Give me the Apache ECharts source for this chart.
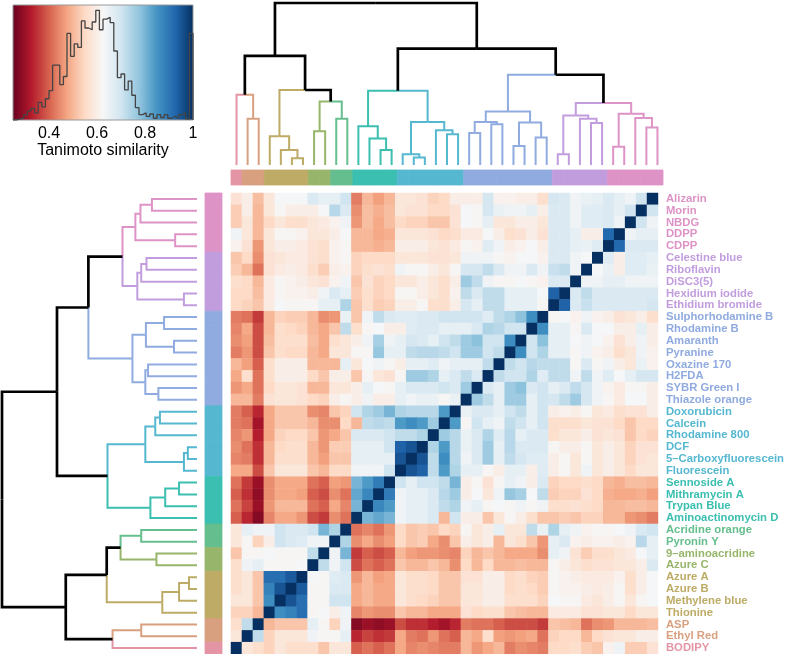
<!DOCTYPE html>
<html>
<head>
<meta charset="utf-8">
<script src="https://cdn.jsdelivr.net/npm/echarts@6/dist/echarts.min.js"></script>
<style>html,body{margin:0;padding:0;background:#fff;}#c{width:787px;height:654px;}</style>
</head>
<body>
<div id="c"></div>
<script>
// ---------------- DATA ----------------
// compounds in row order (top to bottom); columns run in the reverse order
const compounds = ['Alizarin','Morin','NBDG','DDPP','CDPP','Celestine blue','Riboflavin','DiSC3(5)','Hexidium iodide','Ethidium bromide','Sulphorhodamine B','Rhodamine B','Amaranth','Pyranine','Oxazine 170','H2FDA','SYBR Green I','Thiazole orange','Doxorubicin','Calcein','Rhodamine 800','DCF','5\u2013Carboxyfluorescein','Fluorescein','Sennoside A','Mithramycin A','Trypan Blue','Aminoactinomycin D','Acridine orange','Pyronin Y','9\u2013aminoacridine','Azure C','Azure A','Azure B','Methylene blue','Thionine','ASP','Ethyl Red','BODIPY'];
// cluster id of each compound (row order)
const compoundCluster = [9,9,9,9,9,8,8,8,8,8,7,7,7,7,7,7,7,7,6,6,6,6,6,6,5,5,5,5,4,4,3,3,2,2,2,2,1,1,0];
const clusterColors = ['#E495A5','#D8A07F','#BDAB66','#97B66B','#65BE8D','#3ABFB0','#55B8D0','#90ABE0','#C29DDE','#DE93C6'];

// Tanimoto similarity, row r = compound r, column c = compound (38-c), for c = 0 .. 37-r
const simRows = [
 [0.57,0.60,0.51,0.58,0.63,0.63,0.63,0.68,0.66,0.66,0.70,0.43,0.50,0.47,0.50,0.58,0.58,0.57,0.54,0.55,0.60,0.60,0.60,0.69,0.61,0.61,0.60,0.60,0.56,0.69,0.68,0.64,0.65,0.66,0.68,0.66,0.64,0.70],
 [0.53,0.60,0.50,0.58,0.62,0.60,0.60,0.60,0.63,0.73,0.68,0.45,0.51,0.49,0.51,0.58,0.57,0.57,0.55,0.55,0.57,0.63,0.62,0.69,0.65,0.64,0.64,0.66,0.60,0.68,0.68,0.64,0.67,0.67,0.68,0.66,0.70],
 [0.53,0.58,0.50,0.55,0.58,0.56,0.56,0.58,0.59,0.61,0.64,0.46,0.51,0.48,0.51,0.55,0.54,0.54,0.52,0.52,0.57,0.63,0.62,0.66,0.58,0.58,0.60,0.60,0.58,0.68,0.68,0.64,0.67,0.67,0.68,0.64],
 [0.64,0.58,0.50,0.58,0.62,0.62,0.61,0.58,0.58,0.60,0.63,0.50,0.50,0.48,0.49,0.58,0.58,0.58,0.57,0.55,0.56,0.59,0.59,0.63,0.60,0.56,0.57,0.60,0.57,0.68,0.68,0.66,0.60,0.60,0.92],
 [0.61,0.57,0.46,0.58,0.60,0.60,0.59,0.57,0.56,0.61,0.62,0.50,0.50,0.49,0.50,0.60,0.60,0.60,0.58,0.57,0.59,0.62,0.61,0.67,0.64,0.60,0.61,0.63,0.60,0.68,0.68,0.66,0.65,0.67],
 [0.52,0.55,0.45,0.57,0.58,0.59,0.59,0.57,0.56,0.61,0.62,0.54,0.55,0.55,0.55,0.58,0.58,0.58,0.57,0.57,0.58,0.64,0.64,0.64,0.62,0.61,0.63,0.63,0.61,0.68,0.68,0.64,0.63],
 [0.53,0.50,0.42,0.57,0.59,0.60,0.59,0.56,0.53,0.60,0.61,0.54,0.56,0.57,0.56,0.64,0.62,0.62,0.60,0.58,0.62,0.69,0.69,0.72,0.68,0.64,0.64,0.68,0.64,0.71,0.72,0.64],
 [0.56,0.55,0.50,0.59,0.62,0.61,0.60,0.58,0.57,0.61,0.64,0.52,0.57,0.54,0.55,0.58,0.58,0.60,0.58,0.56,0.60,0.76,0.72,0.64,0.62,0.62,0.63,0.62,0.61,0.68,0.68],
 [0.55,0.55,0.51,0.59,0.62,0.61,0.61,0.60,0.64,0.68,0.66,0.53,0.56,0.54,0.55,0.62,0.62,0.60,0.58,0.56,0.61,0.72,0.68,0.72,0.72,0.66,0.66,0.66,0.63,0.93],
 [0.55,0.54,0.52,0.59,0.63,0.62,0.62,0.62,0.66,0.66,0.74,0.52,0.56,0.53,0.54,0.60,0.60,0.62,0.56,0.56,0.60,0.69,0.66,0.72,0.72,0.66,0.66,0.66,0.62],
 [0.43,0.42,0.36,0.50,0.54,0.53,0.53,0.50,0.45,0.46,0.65,0.52,0.64,0.72,0.68,0.67,0.67,0.68,0.68,0.70,0.70,0.70,0.70,0.67,0.72,0.74,0.78,0.86],
 [0.44,0.48,0.38,0.50,0.56,0.55,0.54,0.50,0.48,0.52,0.72,0.56,0.62,0.63,0.60,0.60,0.67,0.68,0.68,0.66,0.66,0.66,0.68,0.74,0.73,0.70,0.70],
 [0.45,0.47,0.38,0.51,0.56,0.56,0.56,0.51,0.48,0.56,0.58,0.60,0.64,0.75,0.64,0.66,0.69,0.68,0.66,0.70,0.72,0.76,0.78,0.70,0.70,0.86],
 [0.43,0.46,0.38,0.52,0.56,0.55,0.55,0.50,0.48,0.58,0.58,0.62,0.62,0.77,0.66,0.66,0.72,0.73,0.73,0.72,0.70,0.76,0.76,0.70,0.72],
 [0.50,0.47,0.40,0.56,0.60,0.60,0.60,0.50,0.50,0.50,0.66,0.58,0.63,0.64,0.62,0.60,0.66,0.66,0.67,0.64,0.66,0.66,0.66,0.72],
 [0.48,0.56,0.42,0.56,0.60,0.60,0.60,0.55,0.52,0.60,0.60,0.52,0.62,0.58,0.57,0.62,0.76,0.76,0.74,0.66,0.68,0.72,0.68],
 [0.46,0.48,0.42,0.55,0.58,0.58,0.57,0.50,0.50,0.58,0.58,0.60,0.66,0.63,0.62,0.66,0.68,0.68,0.68,0.70,0.68,0.76],
 [0.50,0.50,0.43,0.57,0.58,0.58,0.57,0.55,0.54,0.60,0.62,0.60,0.64,0.60,0.60,0.66,0.64,0.65,0.65,0.62,0.65],
 [0.43,0.40,0.34,0.48,0.52,0.52,0.52,0.45,0.44,0.52,0.54,0.70,0.74,0.76,0.80,0.74,0.73,0.73,0.73,0.84],
 [0.43,0.42,0.31,0.48,0.52,0.52,0.52,0.50,0.45,0.45,0.55,0.50,0.72,0.73,0.72,0.84,0.86,0.84,0.76],
 [0.44,0.46,0.33,0.48,0.54,0.55,0.55,0.52,0.46,0.48,0.52,0.68,0.68,0.68,0.70,0.72,0.72,0.74],
 [0.45,0.42,0.35,0.50,0.55,0.56,0.56,0.50,0.46,0.53,0.53,0.66,0.66,0.66,0.70,0.93,0.95],
 [0.44,0.43,0.35,0.50,0.56,0.56,0.56,0.50,0.47,0.52,0.52,0.66,0.66,0.66,0.66,0.95],
 [0.48,0.48,0.38,0.52,0.58,0.58,0.58,0.52,0.50,0.55,0.55,0.64,0.64,0.64,0.70],
 [0.42,0.36,0.30,0.45,0.48,0.48,0.48,0.42,0.40,0.47,0.46,0.80,0.84,0.89],
 [0.40,0.35,0.29,0.45,0.48,0.48,0.47,0.40,0.38,0.45,0.42,0.82,0.87],
 [0.42,0.37,0.30,0.46,0.50,0.50,0.50,0.42,0.40,0.48,0.44,0.80],
 [0.40,0.34,0.28,0.44,0.48,0.48,0.46,0.38,0.36,0.45,0.42],
 [0.58,0.66,0.64,0.64,0.70,0.68,0.68,0.70,0.80,0.74],
 [0.58,0.62,0.54,0.60,0.70,0.68,0.67,0.64,0.64],
 [0.52,0.62,0.62,0.63,0.62,0.62,0.62,0.72],
 [0.56,0.64,0.66,0.62,0.62,0.62,0.63],
 [0.56,0.58,0.52,0.91,0.91,0.94],
 [0.56,0.58,0.52,0.88,0.95],
 [0.58,0.58,0.52,0.86],
 [0.54,0.54,0.50],
 [0.56,0.72],
 [0.58]
];
const selfSimilarity = 1;

// hierarchical clustering (column order leaves: negative = leaf -(col+1), positive = earlier merge, 1-based)
const mergeA = [-2,-1,-6,-5,-4,-8,-10,6,5,2,-14,-13,-12,-17,-16,-20,-19,15,13,-22,-24,20,-26,-28,23,22,-30,-33,-32,27,-38,-37,-35,33,30,26,19,10];
const mergeB = [-3, 1,-7, 3, 4,-9,-11,7,8,9,-15, 11, 12,-18, 14,-21, 16,17,18,-23,-25,21,-27,-29,24,25,-31,-34, 28,29,-39, 31,-36,32,34,35,36,37];
const mergeHeight = [0.286,0.433,0.041,0.092,0.178,0.208,0.286,0.392,0.463,0.673,0.092,0.163,0.239,0.047,0.067,0.190,0.214,0.265,0.459,0.198,0.251,0.265,0.118,0.169,0.262,0.331,0.067,0.259,0.286,0.306,0.231,0.290,0.112,0.316,0.382,0.557,0.718,1.0];

// histogram of similarities (colour key)
const histStart = 0.25, histWidth = 0.015;
const histCounts = [0,3,5,15,25,33,20,50,37,60,83,155,155,100,123,245,180,215,205,280,260,255,277,310,255,285,290,275,195,120,130,85,110,70,35,15,20,10,17,5,15,7,15,5,10,5,15,20,3,245];
const keyTicks = [0.4,0.6,0.8,1];

// ---------------- BUILD ----------------
const N = compounds.length;
const RdBu = ['#67001f','#b2182b','#d6604d','#f4a582','#fddbc7','#f7f7f7','#d1e5f0','#92c5de','#4393c3','#2166ac','#053061'];
const colMin = 0.25, colMax = 1.0;

function sim(r, c) {
  if (c === N - 1 - r) return selfSimilarity;
  if (c < N - 1 - r) return simRows[r][c];
  return simRows[N - 1 - c][N - 1 - r];
}
const heatData = [];
for (let r = 0; r < N; r++) for (let c = 0; c < N; c++) heatData.push([c, r, sim(r, c)]);

const colCluster = [];
for (let c = 0; c < N; c++) colCluster.push(compoundCluster[N - 1 - c]);

// dendrogram edges
const pos = {}, hgt = {}, clu = {};
function key(v) { return v < 0 ? 'L' + (-v - 1) : 'N' + v; }
for (let c = 0; c < N; c++) { pos['L' + c] = c + 0.5; hgt['L' + c] = 0; clu['L' + c] = colCluster[c]; }
const edges = [];
for (let i = 0; i < mergeA.length; i++) {
  const a = key(mergeA[i]), b = key(mergeB[i]), n = 'N' + (i + 1);
  pos[n] = (pos[a] + pos[b]) / 2; hgt[n] = mergeHeight[i];
  clu[n] = clu[a] === clu[b] ? clu[a] : -1;
  [a, b].forEach(ch => edges.push([pos[ch], hgt[ch], pos[n], hgt[n], clu[ch]]));
}

function edgeStyle(k) {
  return k < 0 ? {stroke:'#000', lineWidth:2.7, fill:null} : {stroke:clusterColors[k], lineWidth:2, fill:null};
}
function renderTopEdge(p, api) {
  const x = api.value(0), h = api.value(1), px = api.value(2), ph = api.value(3), k = api.value(4);
  return {type:'polyline', shape:{points:[api.coord([x,h]), api.coord([x,ph]), api.coord([px,ph])]}, style:edgeStyle(k)};
}
function renderLeftEdge(p, api) {
  const x = N - api.value(0), h = api.value(1), px = N - api.value(2), ph = api.value(3), k = api.value(4);
  return {type:'polyline', shape:{points:[api.coord([h,x]), api.coord([ph,x]), api.coord([ph,px])]}, style:edgeStyle(k)};
}
function renderTopBar(p, api) {
  const c = api.value(0), k = api.value(1);
  const p0 = api.coord([c, 1]), p1 = api.coord([c + 1, 0]);
  return {type:'rect', shape:{x:p0[0], y:p0[1], width:p1[0]-p0[0], height:p1[1]-p0[1]}, style:{fill:clusterColors[k], stroke:clusterColors[k], lineWidth:0.8}};
}
function renderLeftBar(p, api) {
  const r = api.value(0), k = api.value(1);
  const p0 = api.coord([0, r]), p1 = api.coord([1, r + 1]);
  return {type:'rect', shape:{x:p0[0], y:p0[1], width:p1[0]-p0[0], height:p1[1]-p0[1]}, style:{fill:clusterColors[k], stroke:clusterColors[k], lineWidth:0.8}};
}
const histMax = 325;
function renderKey(p, api) {
  const p0 = api.coord([api.value(0), histMax]), p1 = api.coord([api.value(1), 0]);
  return {type:'rect', shape:{x:p0[0], y:p0[1], width:p1[0]-p0[0], height:p1[1]-p0[1]},
    style:{fill:{type:'linear', x:0, y:0, x2:1, y2:0, colorStops:RdBu.map((c,i)=>({offset:i/(RdBu.length-1), color:c}))}, stroke:'#999', lineWidth:1}};
}
const histLine = [[histStart, 0]];
histCounts.forEach((v, i) => histLine.push([histStart + i * histWidth, v]));
histLine.push([histStart + histCounts.length * histWidth, 0]);

const font = 'Liberation Sans, Arial, sans-serif';
const rich = {};
clusterColors.forEach((c, i) => rich['k' + i] = {color:c, fontWeight:'bold', fontSize:11.3, fontFamily:font});

const chart = echarts.init(document.getElementById('c'), null, {renderer:'canvas'});
chart.setOption({
  animation:false,
  backgroundColor:'#fff',
  grid:[
    {left:231, top:193, width:432, height:461},
    {left:231, top:3, width:432, height:162},
    {left:2, top:193, width:195, height:461},
    {left:231, top:170, width:432, height:15},
    {left:205, top:193, width:17, height:461},
    {left:13, top:5, width:180, height:115}
  ],
  xAxis:[
    {type:'category', gridIndex:0, data:compounds.slice().reverse(), show:false},
    {type:'value', gridIndex:1, min:0, max:N, show:false},
    {type:'value', gridIndex:2, min:0, max:1, inverse:true, show:false},
    {type:'value', gridIndex:3, min:0, max:N, show:false},
    {type:'value', gridIndex:4, min:0, max:1, show:false},
    {type:'value', gridIndex:5, min:colMin, max:colMax, interval:0.05,
      axisLine:{show:false}, axisTick:{show:false}, splitLine:{show:false},
      axisLabel:{show:true, interval:0, margin:6, fontSize:16, color:'#000', fontFamily:font, showMinLabel:true, showMaxLabel:true,
        formatter:function(v){ for (const t of keyTicks) { if (Math.abs(v - t) < 1e-6) return t === 1 ? '1' : t.toFixed(1); } return ''; }},
      name:'Tanimoto similarity', nameLocation:'middle', nameGap:23, nameTextStyle:{fontSize:16, color:'#000', fontFamily:font}}
  ],
  yAxis:[
    {type:'category', gridIndex:0, data:compounds, inverse:true, position:'right',
      axisLine:{show:false}, axisTick:{show:false}, splitLine:{show:false},
      axisLabel:{interval:0, margin:8, formatter:function(v, i){ return '{k' + compoundCluster[i] + '|' + v + '}'; }, rich:rich}},
    {type:'value', gridIndex:1, min:0, max:1, show:false},
    {type:'value', gridIndex:2, min:0, max:N, inverse:true, show:false},
    {type:'value', gridIndex:3, min:0, max:1, show:false},
    {type:'value', gridIndex:4, min:0, max:N, inverse:true, show:false},
    {type:'value', gridIndex:5, min:0, max:histMax, show:false}
  ],
  visualMap:{type:'continuous', show:false, min:colMin, max:colMax, dimension:2, seriesIndex:0, inRange:{color:RdBu}},
  series:[
    {type:'heatmap', xAxisIndex:0, yAxisIndex:0, data:heatData, itemStyle:{borderWidth:0}, emphasis:{disabled:true}},
    {type:'custom', xAxisIndex:1, yAxisIndex:1, data:edges, renderItem:renderTopEdge, clip:false, z:3},
    {type:'custom', xAxisIndex:2, yAxisIndex:2, data:edges, renderItem:renderLeftEdge, clip:false, z:3},
    {type:'custom', xAxisIndex:3, yAxisIndex:3, data:colCluster.map((k,c)=>[c,k]), renderItem:renderTopBar},
    {type:'custom', xAxisIndex:4, yAxisIndex:4, data:compoundCluster.map((k,r)=>[r,k]), renderItem:renderLeftBar},
    {type:'custom', xAxisIndex:5, yAxisIndex:5, data:[[colMin, colMax]], renderItem:renderKey, z:1},
    {type:'line', xAxisIndex:5, yAxisIndex:5, data:histLine, step:'end', symbol:'none', lineStyle:{color:'#444', width:1.3}, z:4}
  ]
});
</script>
</body>
</html>
